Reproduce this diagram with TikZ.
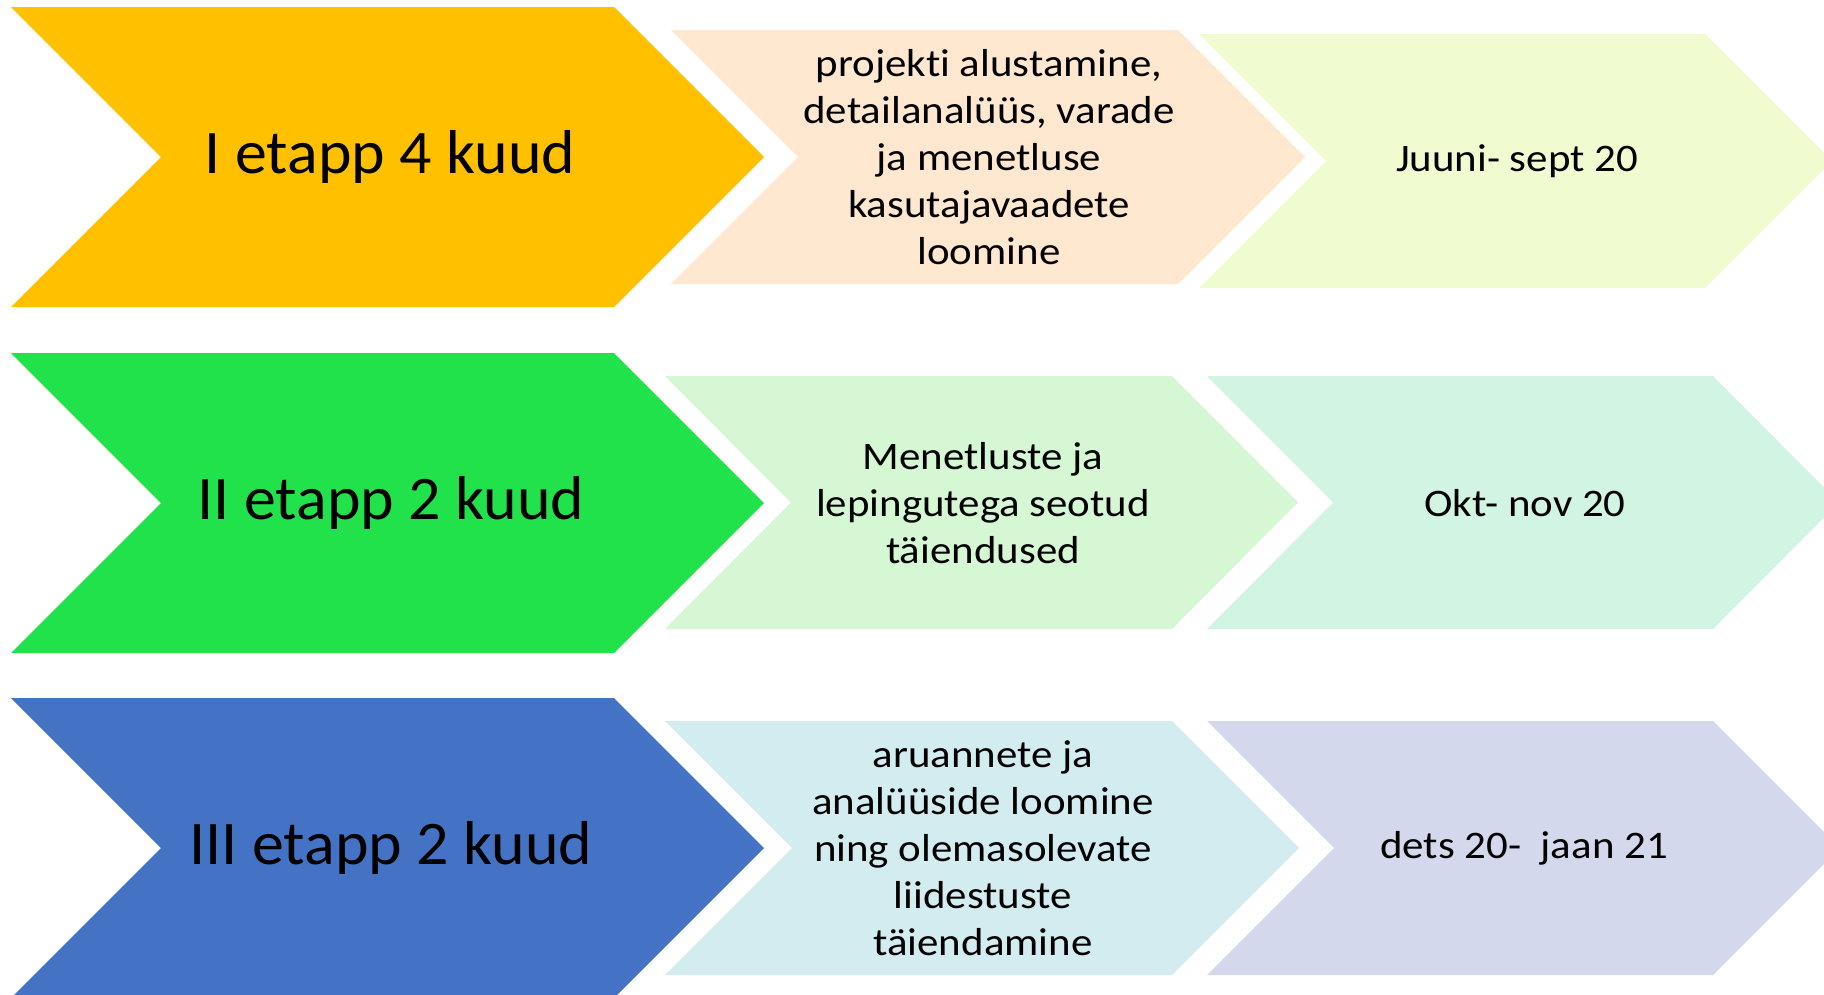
\documentclass[tikz,border=0pt]{standalone}
\usepackage{fontspec}
\setmainfont[Ligatures=NoCommon]{Carlito}
\newfontfamily\bigfont[Ligatures=NoCommon,FakeStretch=1.03]{Carlito}
\newfontfamily\smallfont[Ligatures=NoCommon,FakeStretch=1.1]{Carlito}
\definecolor{cyellow}{HTML}{FFC000}
\definecolor{cgreen}{HTML}{22E24B}
\definecolor{cblue}{HTML}{4472C4}
\definecolor{cpeach}{HTML}{FFE8CF}
\definecolor{clime}{HTML}{F1FBD0}
\definecolor{clgreen}{HTML}{D5F7D3}
\definecolor{cmint}{HTML}{D1F4E3}
\definecolor{ccyan}{HTML}{D2ECEF}
\definecolor{clav}{HTML}{D3D8EC}
\tikzset{
  bigtext/.style={inner sep=0pt, font=\bigfont\fontsize{62}{74}\selectfont, text=black},
  smalltext/.style={inner sep=0pt, align=center, font=\smallfont\fontsize{39}{47}\selectfont, text=black}
}
\begin{document}
\begin{tikzpicture}[x=1pt,y=-1pt]
\useasboundingbox (0,0) rectangle (1824,994);
\fill[white] (0,0) rectangle (1824,994);
\clip (0,0) rectangle (1824,994);
% row 1
\fill[cyellow] (11,7) -- (614,7) -- (764,157) -- (614,307) -- (11,307) -- (161,157) -- cycle;
\fill[cpeach] (671,30) -- (1178,30) -- (1305,157) -- (1178,284) -- (671,284) -- (798,157) -- cycle;
\fill[clime] (1199,34) -- (1705,34) -- (1832,161) -- (1705,288) -- (1199,288) -- (1326,161) -- cycle;
% row 2
\fill[cgreen] (11,353) -- (614,353) -- (764,503) -- (614,653) -- (11,653) -- (161,503) -- cycle;
\fill[clgreen] (665,376) -- (1172,376) -- (1298,502.5) -- (1172,629) -- (665,629) -- (791,502.5) -- cycle;
\fill[cmint] (1207,376) -- (1713,376) -- (1839,502.5) -- (1713,629) -- (1207,629) -- (1333,502.5) -- cycle;
% row 3
\fill[cblue] (11,698) -- (614,698) -- (764,848) -- (614,998) -- (11,998) -- (161,848) -- cycle;
\fill[ccyan] (665,721) -- (1172,721) -- (1299,848) -- (1172,975) -- (665,975) -- (792,848) -- cycle;
\fill[clav] (1207,721) -- (1713,721) -- (1840,848) -- (1713,975) -- (1207,975) -- (1334,848) -- cycle;
% texts
\node[bigtext] (t1) at (390,157) {I etapp 4 kuud};
\node[bigtext] (t2) at (391,503) {II etapp 2 kuud};
\node[bigtext] (t3) at (391,848) {III etapp 2 kuud};
\node[smalltext] (m1) at (989,157) {projekti alustamine,\\detailanalüüs, varade\\ja menetluse\\kasutajavaadete\\loomine};
\node[smalltext] (m2) at (983,503) {Menetluste ja\\lepingutega seotud\\täiendused};
\node[smalltext] (m3) at (983,848) {aruannete ja\\analüüside loomine\\ning olemasolevate\\liidestuste\\täiendamine};
\node[smalltext] (d1) at (1517,161) {Juuni- sept 20};
\node[smalltext] (d2) at (1525,503) {Okt- nov 20};
\node[smalltext] (d3) at (1524,848) {dets 20-~~jaan 21};
\end{tikzpicture}
\end{document}
